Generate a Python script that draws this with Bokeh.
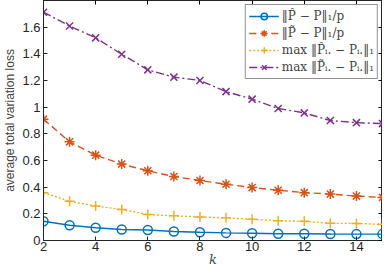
from bokeh.plotting import figure
from bokeh.models import Legend, LegendItem, LinearAxis, FixedTicker, Range1d
from bokeh.embed import file_html
from bokeh.resources import INLINE

k = list(range(2, 16))
hat_avg = [0.144, 0.114, 0.096, 0.083, 0.079, 0.068, 0.062, 0.057, 0.054, 0.051, 0.051, 0.049, 0.048, 0.048]
tilde_avg = [0.91, 0.74, 0.64, 0.573, 0.523, 0.48, 0.45, 0.422, 0.397, 0.377, 0.359, 0.348, 0.333, 0.323]
hat_max = [0.359, 0.295, 0.258, 0.233, 0.195, 0.185, 0.177, 0.17, 0.159, 0.149, 0.144, 0.129, 0.128, 0.121]
tilde_max = [1.712, 1.609, 1.52, 1.397, 1.28, 1.225, 1.2, 1.117, 1.06, 0.99, 0.957, 0.90, 0.884, 0.877]

labels = ["\u2016P\u0302 \u2212 P\u2016\u2081/p",
          "\u2016P\u0303 \u2212 P\u2016\u2081/p",
          "max \u2016P\u0302\u1d62. \u2212 P\u1d62.\u2016\u2081",
          "max \u2016P\u0303\u1d62. \u2212 P\u1d62.\u2016\u2081"]
x_ticks = [2, 4, 6, 8, 10, 12, 14]
y_ticks = [0, 0.2, 0.4, 0.6, 0.8, 1.0, 1.2, 1.4, 1.6]
y_tick_labels = ["0", "0.2", "0.4", "0.6", "0.8", "1", "1.2", "1.4", "1.6"]

p = figure(width=382, height=269, output_backend="svg", toolbar_location=None,
           x_range=Range1d(2, 15), y_range=Range1d(0, 1.8),
           min_border_left=36, min_border_right=0, min_border_top=0, min_border_bottom=0)
p.grid.visible = False
p.outline_line_color = "#262626"
p.outline_line_width = 1
p.background_fill_color = "white"
p.border_fill_color = "white"

colors = ["#0072BD", "#D95319", "#EDB120", "#7E2F8E"]
series = [hat_avg, tilde_avg, hat_max, tilde_max]
dashes = ["solid", "7 4", "2 2", "8 3 2 3"]
markers = ["circle", "asterisk", "cross", "x"]
items = []
for s, c, d, m, lab in zip(series, colors, dashes, markers, labels):
    r1 = p.line(k, s, line_color=c, line_width=1.4, line_dash=d)
    if m == "circle":
        r2 = p.scatter(k, s, marker=m, size=9, line_color=c, fill_color=None, line_width=1.5)
    else:
        r2 = p.scatter(k, s, marker=m, size=10, line_color=c, line_width=1.5)
    items.append(LegendItem(label=lab, renderers=[r1, r2]))

legend = Legend(items=items, location="top_right", margin=4, padding=3, spacing=1,
                label_text_font="DejaVu Serif", label_text_font_size="12px",
                label_height=16, glyph_height=16, glyph_width=30, label_standoff=3,
                border_line_color="#262626", border_line_width=1,
                background_fill_alpha=1)
p.add_layout(legend)

for ax in [p.xaxis[0], p.yaxis[0]]:
    ax.major_tick_in = 4
    ax.major_tick_out = 0
    ax.minor_tick_line_color = None
    ax.axis_line_color = "#262626"
    ax.major_tick_line_color = "#262626"
    ax.major_label_text_font = "Liberation Sans"
    ax.major_label_text_font_size = "13px"
    ax.major_label_text_color = "#262626"

p.xaxis[0].ticker = FixedTicker(ticks=x_ticks)
p.yaxis[0].ticker = FixedTicker(ticks=y_ticks)
p.yaxis[0].major_label_overrides = {t: l for t, l in zip(y_ticks, y_tick_labels)}
p.xaxis[0].major_label_standoff = 1
p.yaxis[0].major_label_standoff = 3
p.xaxis[0].axis_label = "k"
p.xaxis[0].axis_label_text_font = "DejaVu Serif"
p.xaxis[0].axis_label_text_font_style = "italic"
p.xaxis[0].axis_label_text_font_size = "13px"
p.xaxis[0].axis_label_standoff = -2
p.yaxis[0].axis_label = "average total variation loss"
p.yaxis[0].axis_label_text_font = "Liberation Sans"
p.yaxis[0].axis_label_text_font_style = "normal"
p.yaxis[0].axis_label_text_font_size = "12px"
p.yaxis[0].axis_label_standoff = 2

top = LinearAxis(ticker=FixedTicker(ticks=x_ticks),
                 major_label_overrides={t: "" for t in x_ticks},
                 major_label_text_font_size="1px",
                 major_tick_in=4, major_tick_out=0, minor_tick_line_color=None,
                 axis_line_color="#262626", major_label_standoff=0)
right = LinearAxis(ticker=FixedTicker(ticks=y_ticks),
                   major_label_overrides={t: "" for t in y_ticks},
                   major_label_text_font_size="1px",
                   major_tick_in=4, major_tick_out=0, minor_tick_line_color=None,
                   axis_line_color="#262626", major_label_standoff=0)
p.add_layout(top, "above")
p.add_layout(right, "right")

open("out.html", "w").write(file_html(p, INLINE))
